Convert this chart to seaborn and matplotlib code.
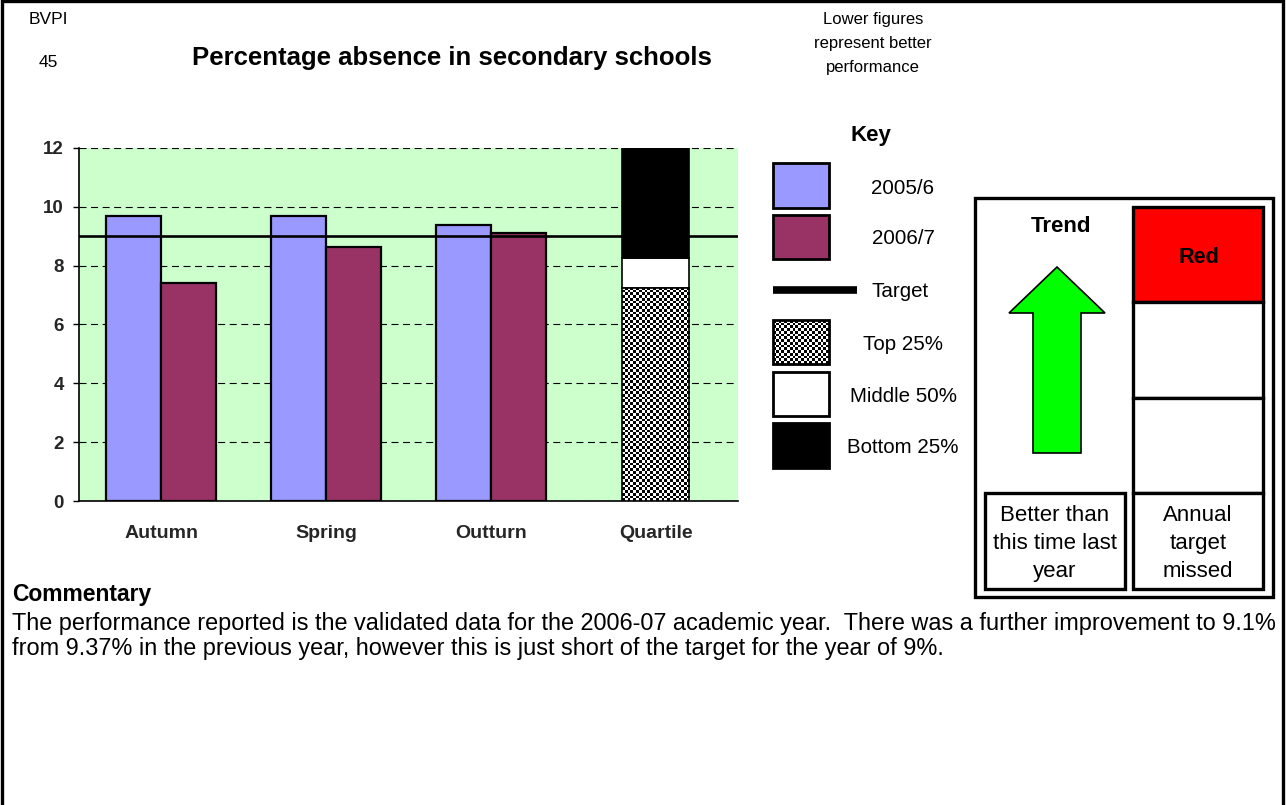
import numpy as np
import pandas as pd
import matplotlib
matplotlib.use("Agg")
import matplotlib.pyplot as plt
import seaborn as sns
from matplotlib.patches import Rectangle, Polygon

# ---- data -------------------------------------------------------------
periods = ["Autumn", "Spring", "Outturn", "Quartile"]
years = ["2005/6", "2006/7"]
absence_2005_6 = [9.69, 9.69, 9.37]
absence_2006_7 = [7.41, 8.64, 9.10]
target = 9.0
quartile_bounds = [0.0, 7.25, 8.25, 12.0]   # top 25% / middle 50% / bottom 25%
y_ticks = [0, 2, 4, 6, 8, 10, 12]

year_colors = ["#9999FF", "#993366"]
key_labels = ["2005/6", "2006/7", "Target", "Top 25%", "Middle 50%", "Bottom 25%"]
commentary = [
    "The performance reported is the validated data for the 2006-07 academic year.  "
    "There was a further improvement to 9.1%",
    "from 9.37% in the previous year, however this is just short of the target for the year of 9%.",
]

# ---- figure -----------------------------------------------------------
sns.set_theme(style="white")
plt.rcParams["font.family"] = ["Liberation Sans", "DejaVu Sans"]
plt.rcParams["text.color"] = "black"

W, H = 1286, 805
fig = plt.figure(figsize=(W / 100, H / 100), dpi=100)
fig.patch.set_facecolor("white")

ax = fig.add_axes([79 / W, 1 - 501 / H, 659 / W, 353 / H])
ax.set_facecolor("#CCFFCC")

df = pd.DataFrame({
    "period": periods[:3] * 2,
    "year": [years[0]] * 3 + [years[1]] * 3,
    "value": absence_2005_6 + absence_2006_7,
})
sns.barplot(data=df, x="period", y="value", hue="year", order=periods,
            hue_order=years, palette=year_colors, saturation=1, width=0.667,
            edgecolor="black", linewidth=1.6, legend=False, ax=ax, zorder=3)

# stacked quartile column
qx = periods.index("Quartile")
qw = 0.41
q_low = ax.bar(qx, quartile_bounds[1] - quartile_bounds[0], bottom=quartile_bounds[0],
               width=qw, facecolor="none", edgecolor="black", linewidth=1.2, zorder=4)[0]
ax.bar(qx, quartile_bounds[2] - quartile_bounds[1], bottom=quartile_bounds[1],
       width=qw, facecolor="white", edgecolor="black", linewidth=1.2, zorder=3)
ax.bar(qx, quartile_bounds[3] - quartile_bounds[2], bottom=quartile_bounds[2],
       width=qw, facecolor="black", edgecolor="black", linewidth=1.2, zorder=3)

# checkered fill for the top-quartile segment
checker = (np.add.outer(np.arange(78), np.arange(24)) % 2).astype(float)
im = ax.imshow(checker, cmap="gray", vmin=0, vmax=1, origin="lower",
               extent=(qx - qw / 2, qx + qw / 2, quartile_bounds[0], quartile_bounds[1]),
               aspect="auto", interpolation="nearest", zorder=3)
im.set_clip_path(q_low)

ax.axhline(target, color="black", linewidth=1.9, zorder=6)

ax.set_xlim(-0.5, 3.5)
ax.set_ylim(0, 12)
ax.set_xlabel("")
ax.set_ylabel("")

ax.set_yticks(y_ticks, labels=[str(v) for v in y_ticks], fontweight="bold", fontsize=13.5)
ax.yaxis.grid(True, color="black", linewidth=0.8, linestyle=(0, (6.3, 4.1)))
ax.xaxis.grid(False)
ax.set_axisbelow(True)

ax.set_xticks([-0.5, 0.5, 1.5, 2.5, 3.5], labels=[""] * 5)
ax.set_xticks(range(len(periods)), labels=periods, minor=True,
              fontweight="bold", fontsize=14)
ax.tick_params(axis="x", which="major", direction="out", length=4.3, width=1, color="black")
ax.tick_params(axis="x", which="minor", length=0, pad=17)
ax.tick_params(axis="y", direction="out", length=4.3, width=1, color="black",
               pad=6.5, left=True)

for side in ("top", "right"):
    ax.spines[side].set_visible(False)
for side in ("left", "bottom"):
    ax.spines[side].set_color("black")
    ax.spines[side].set_linewidth(1.2)

# ---- page furniture (pixel coordinates) --------------------------------
ov = fig.add_axes([0, 0, 1, 1])
ov.set_xlim(0, W)
ov.set_ylim(H, 0)
ov.axis("off")
ov.patch.set_alpha(0)

# page frame
ov.plot([1.5, 1.5, 1283, 1283], [H + 5, 1.5, 1.5, H + 5], color="black",
        linewidth=2.4, clip_on=False, solid_joinstyle="miter")

# heading
ov.text(48, 24, "BVPI", ha="center", va="baseline", fontsize=12.5)
ov.text(48, 67, "45", ha="center", va="baseline", fontsize=12.5)
ov.text(452, 65, "Percentage absence in secondary schools", ha="center",
        va="baseline", fontsize=18.5, fontweight="bold")
for txt, yb in zip(["Lower figures", "represent better", "performance"], [24, 48, 72]):
    ov.text(873, yb, txt, ha="center", va="baseline", fontsize=12)

# key
ov.text(871, 141, "Key", ha="center", va="baseline", fontsize=16, fontweight="bold")
kx0, kx1 = 773, 829
ov.add_patch(Rectangle((kx0, 163), kx1 - kx0, 45, facecolor=year_colors[0],
                       edgecolor="black", linewidth=2))
ov.add_patch(Rectangle((kx0, 215), kx1 - kx0, 44, facecolor=year_colors[1],
                       edgecolor="black", linewidth=2))
ov.plot([kx0, 857], [290, 290], color="black", linewidth=5.5, solid_capstyle="butt")
key_chk = Rectangle((kx0, 320), kx1 - kx0, 44, facecolor="none",
                    edgecolor="black", linewidth=2, zorder=4)
ov.add_patch(key_chk)
kim = ov.imshow((np.add.outer(np.arange(16), np.arange(20)) % 2).astype(float),
                cmap="gray", vmin=0, vmax=1, extent=(kx0, kx1, 364, 320),
                aspect="auto", interpolation="nearest", zorder=3)
kim.set_clip_path(key_chk)
ov.add_patch(Rectangle((kx0, 372), kx1 - kx0, 44, facecolor="white",
                       edgecolor="black", linewidth=2))
ov.add_patch(Rectangle((kx0, 423), kx1 - kx0, 45, facecolor="black",
                       edgecolor="black", linewidth=2))
for txt, yb, xc in zip(key_labels, [194, 244, 297, 350, 402, 453],
                       [903, 903, 900, 903, 903, 903]):
    ov.text(xc, yb, txt, ha="center", va="baseline", fontsize=14.8)

# trend / status panel
ov.add_patch(Rectangle((975, 198), 298, 399, facecolor="white",
                       edgecolor="black", linewidth=2.4))
ov.add_patch(Rectangle((1133, 207), 130, 95, facecolor="#FF0000",
                       edgecolor="black", linewidth=2.4))
ov.add_patch(Rectangle((1133, 302), 130, 96, facecolor="white",
                       edgecolor="black", linewidth=2.4))
ov.add_patch(Rectangle((1133, 398), 130, 95, facecolor="white",
                       edgecolor="black", linewidth=2.4))
ov.add_patch(Rectangle((1133, 493), 130, 96, facecolor="white",
                       edgecolor="black", linewidth=2.4))
ov.add_patch(Rectangle((985, 493), 140, 96, facecolor="white",
                       edgecolor="black", linewidth=2.4))
ov.add_patch(Polygon([(1057, 267), (1105, 313), (1081, 313), (1081, 453),
                      (1033, 453), (1033, 313), (1009, 313)], closed=True,
                     facecolor="#00FF00", edgecolor="black", linewidth=1.2))
ov.text(1061, 232, "Trend", ha="center", va="baseline", fontsize=16, fontweight="bold")
ov.text(1199, 263, "Red", ha="center", va="baseline", fontsize=15.6, fontweight="bold")
for txt, yb in zip(["Better than", "this time last", "year"], [521, 549, 577]):
    ov.text(1055, yb, txt, ha="center", va="baseline", fontsize=16)
for txt, yb in zip(["Annual", "target", "missed"], [521, 549, 577]):
    ov.text(1198, yb, txt, ha="center", va="baseline", fontsize=16)

# commentary
ov.text(12, 601, "Commentary", ha="left", va="baseline", fontsize=16.5, fontweight="bold")
for txt, yb in zip(commentary, [630, 655]):
    ov.text(12, yb, txt, ha="left", va="baseline", fontsize=16.9)

fig.savefig("out.png", dpi=100, facecolor="white")
